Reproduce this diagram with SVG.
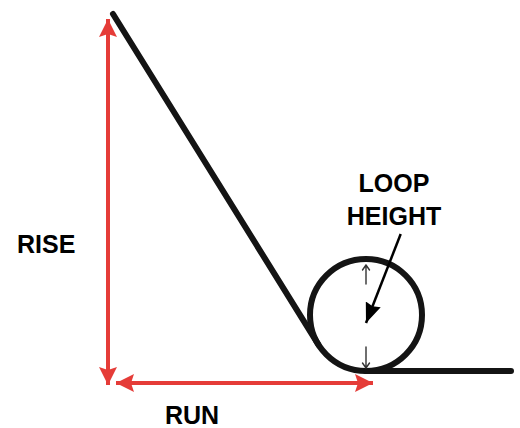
<svg xmlns="http://www.w3.org/2000/svg" width="520" height="428" viewBox="0 0 520 428">
<style>
.track{fill:none;stroke:#141414;stroke-width:6;stroke-linecap:round}
.red{fill:none;stroke:#e53c38;stroke-width:4}
.lbl{font-family:"Liberation Sans",Arial,sans-serif;font-weight:bold;font-size:25px;fill:#000}
.thin{fill:none;stroke:#333;stroke-width:1.4;stroke-linecap:round;stroke-linejoin:round}
</style>
<defs>
<marker id="ra" viewBox="0 0 18 18" refX="18" refY="9" markerWidth="18" markerHeight="18" markerUnits="userSpaceOnUse" orient="auto-start-reverse">
<path d="M0,0 L18,9 L0,18 L3,9 z" fill="#e53c38"/>
</marker>
<marker id="ba" viewBox="0 0 20 16" refX="20" refY="8" markerWidth="20" markerHeight="16" markerUnits="userSpaceOnUse" orient="auto">
<path d="M0,0 L20,8 L0,16 L2,8 z" fill="#000"/>
</marker>
</defs>
<g id="track">
<line class="track" x1="113" y1="14" x2="318.4" y2="344.6"/>
<circle class="track" cx="366" cy="315" r="56"/>
<line class="track" x1="366" y1="371" x2="511" y2="371"/>
</g>
<g id="connectors">
<line class="red" x1="108" y1="19" x2="108" y2="385" marker-start="url(#ra)" marker-end="url(#ra)"/>
<line class="red" x1="116" y1="383" x2="373" y2="383" marker-start="url(#ra)" marker-end="url(#ra)"/>
<line x1="400.7" y1="234" x2="366" y2="323" stroke="#000" stroke-width="2.5" marker-end="url(#ba)"/>
<path class="thin" d="M366,284 L366,265 M362.5,270 L366,265 L369.5,270"/>
<path class="thin" d="M366,347 L366,368 M362.5,363 L366,368 L369.5,363"/>
</g>
<g id="labels">
<text class="lbl" x="17" y="253">RISE</text>
<text class="lbl" x="165" y="424">RUN</text>
<text class="lbl" x="394" y="192" text-anchor="middle">LOOP</text>
<text class="lbl" x="394" y="225" text-anchor="middle">HEIGHT</text>
</g>
</svg>
